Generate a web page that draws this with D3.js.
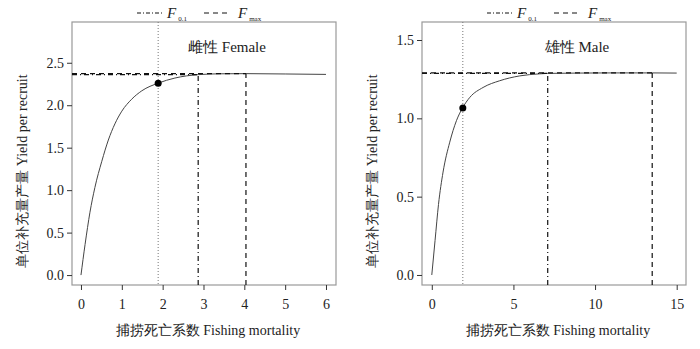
<!DOCTYPE html>
<html><head><meta charset="utf-8">
<script src="https://cdn.jsdelivr.net/npm/d3@7"></script>
<style>
body{margin:0;background:#fff;}
svg text{font-family:"Liberation Serif","Times New Roman","DejaVu Serif",serif !important;}
</style></head>
<body>
<svg id="c" width="700" height="349" font-family="Liberation Serif, serif"></svg>
<script>
// Female yield-per-recruit curve
const femaleF = [0, 0.1, 0.22, 0.34, 0.51, 0.67, 0.83, 1.0, 1.24, 1.49, 1.89, 2.3, 2.87, 3.4, 4.04, 5.0, 6.0];
const femaleY = [0, 0.36, 0.74, 1.03, 1.34, 1.59, 1.78, 1.93, 2.07, 2.17, 2.26, 2.32, 2.36, 2.37, 2.372, 2.368, 2.363];
// Male yield-per-recruit curve
const maleF = [0, 0.2, 0.41, 0.69, 1.1, 1.51, 1.87, 2.33, 3.14, 4.16, 5.39, 6.6, 7.1, 9.0, 11.0, 13.5, 15.0];
const maleY = [0, 0.22, 0.45, 0.657, 0.848, 0.985, 1.064, 1.134, 1.197, 1.24, 1.271, 1.284, 1.287, 1.289, 1.29, 1.29, 1.289];
// Reference points
const femaleRef = {F01: 2.87, Y01: 2.36, Fmax: 4.04, Ymax: 2.372, Fcur: 1.89, Ycur: 2.26};
const maleRef = {F01: 7.1, Y01: 1.287, Fmax: 13.5, Ymax: 1.29, Fcur: 1.9, Ycur: 1.066};
// Axis ticks
const femaleXTicks = [0, 1, 2, 3, 4, 5, 6];
const femaleYTicks = [0, 0.5, 1, 1.5, 2, 2.5];
const maleXTicks = [0, 5, 10, 15];
const maleYTicks = [0, 0.5, 1, 1.5];
const titles = ["雌性 Female", "雄性 Male"];
const xLabel = "捕捞死亡系数 Fishing mortality";
const yLabel = "单位补充量产量 Yield per recruit";

const svg = d3.select("#c");
const SERIF = "'Liberation Serif','Times New Roman','DejaVu Serif',serif";

function panel(ox, F, Y, ref, xTicks, yTicks, xDom, yDom, title) {
  const L = ox + 72, R = ox + 336, T = 22, B = 285;
  const x = d3.scaleLinear().domain(xDom).range([L, R]);
  const y = d3.scaleLinear().domain(yDom).range([B, T]);
  const g = svg.append("g");
  // box
  g.append("rect").attr("x", L).attr("y", T).attr("width", R - L).attr("height", B - T)
    .attr("fill", "none").attr("stroke", "#999").attr("stroke-width", 1.2);
  // axes
  const xa = g.append("g").attr("transform", `translate(0,${B})`)
    .call(d3.axisBottom(x).tickValues(xTicks).tickSize(5).tickPadding(9).tickFormat(d3.format("d")));
  const ya = g.append("g").attr("transform", `translate(${L},0)`)
    .call(d3.axisLeft(y).tickValues(yTicks).tickSize(5).tickPadding(3).tickFormat(d3.format(".1f")));
  [xa, ya].forEach(a => {
    a.attr("font-family", SERIF);
    a.select(".domain").remove();
    a.selectAll("line").attr("stroke", "#333");
    a.selectAll("text").attr("font-size", 14).attr("fill", "#222");
  });
  // curve
  const pts = F.map((f, i) => [f, Y[i]]);
  g.append("path").datum(pts)
    .attr("d", d3.line().x(d => x(d[0])).y(d => y(d[1])).curve(d3.curveMonotoneX))
    .attr("fill", "none").attr("stroke", "#444").attr("stroke-width", 1);
  // current F dotted vertical
  g.append("line").attr("x1", x(ref.Fcur)).attr("x2", x(ref.Fcur)).attr("y1", T).attr("y2", B)
    .attr("stroke", "#777").attr("stroke-width", 1).attr("stroke-dasharray", "1,2");
  // F0.1 dash-dot
  g.append("line").attr("x1", x(ref.F01)).attr("x2", x(ref.F01)).attr("y1", B).attr("y2", y(ref.Y01))
    .attr("stroke", "#111").attr("stroke-width", 1.2).attr("stroke-dasharray", "5,3,1,3");
  g.append("line").attr("x1", L).attr("x2", x(ref.F01)).attr("y1", y(ref.Y01)).attr("y2", y(ref.Y01))
    .attr("stroke", "#111").attr("stroke-width", 1.2).attr("stroke-dasharray", "5,3,1,3");
  // Fmax dashed
  g.append("line").attr("x1", x(ref.Fmax)).attr("x2", x(ref.Fmax)).attr("y1", B).attr("y2", y(ref.Ymax))
    .attr("stroke", "#111").attr("stroke-width", 1.2).attr("stroke-dasharray", "5,4");
  g.append("line").attr("x1", L).attr("x2", x(ref.Fmax)).attr("y1", y(ref.Ymax)).attr("y2", y(ref.Ymax))
    .attr("stroke", "#111").attr("stroke-width", 1.2).attr("stroke-dasharray", "5,4");
  // point
  g.append("circle").attr("cx", x(ref.Fcur)).attr("cy", y(ref.Ycur)).attr("r", 3.5).attr("fill", "#000");
  // title
  g.append("text").attr("x", ox + 227).attr("y", 52).attr("text-anchor", "middle")
    .attr("font-size", 15).attr("fill", "#222").text(title);
  // x label
  g.append("text").attr("x", ox + 208).attr("y", 335).attr("text-anchor", "middle")
    .attr("font-size", 14).attr("fill", "#222").text(xLabel);
  // y label
  g.append("text").attr("transform", `translate(${ox + 27},171) rotate(-90)`)
    .attr("text-anchor", "middle").attr("font-size", 14).attr("fill", "#222").text(yLabel);
  // legend
  const lg = g.append("g").attr("transform", `translate(${ox},13)`);
  lg.append("line").attr("x1", 137).attr("x2", 163).attr("y1", 0).attr("y2", 0)
    .attr("stroke", "#111").attr("stroke-dasharray", "4,2,1,2");
  const t1 = lg.append("text").attr("x", 167).attr("y", 5).attr("font-size", 15).attr("fill", "#222");
  t1.append("tspan").attr("font-style", "italic").text("F");
  t1.append("tspan").attr("font-size", 7).attr("dy", 3).attr("dx", 2).text("0.1");
  lg.append("line").attr("x1", 204).attr("x2", 229).attr("y1", 0).attr("y2", 0)
    .attr("stroke", "#111").attr("stroke-dasharray", "5,4");
  const t2 = lg.append("text").attr("x", 238).attr("y", 5).attr("font-size", 15).attr("fill", "#222");
  t2.append("tspan").attr("font-style", "italic").text("F");
  t2.append("tspan").attr("font-size", 7).attr("dy", 3).attr("dx", 2).text("max");
}

panel(0, femaleF, femaleY, femaleRef, femaleXTicks, femaleYTicks, [-0.22, 6.245], [-0.117, 2.98], titles[0]);
panel(350, maleF, maleY, maleRef, maleXTicks, maleYTicks, [-0.6, 15.57], [-0.064, 1.615], titles[1]);
</script>
</body></html>
